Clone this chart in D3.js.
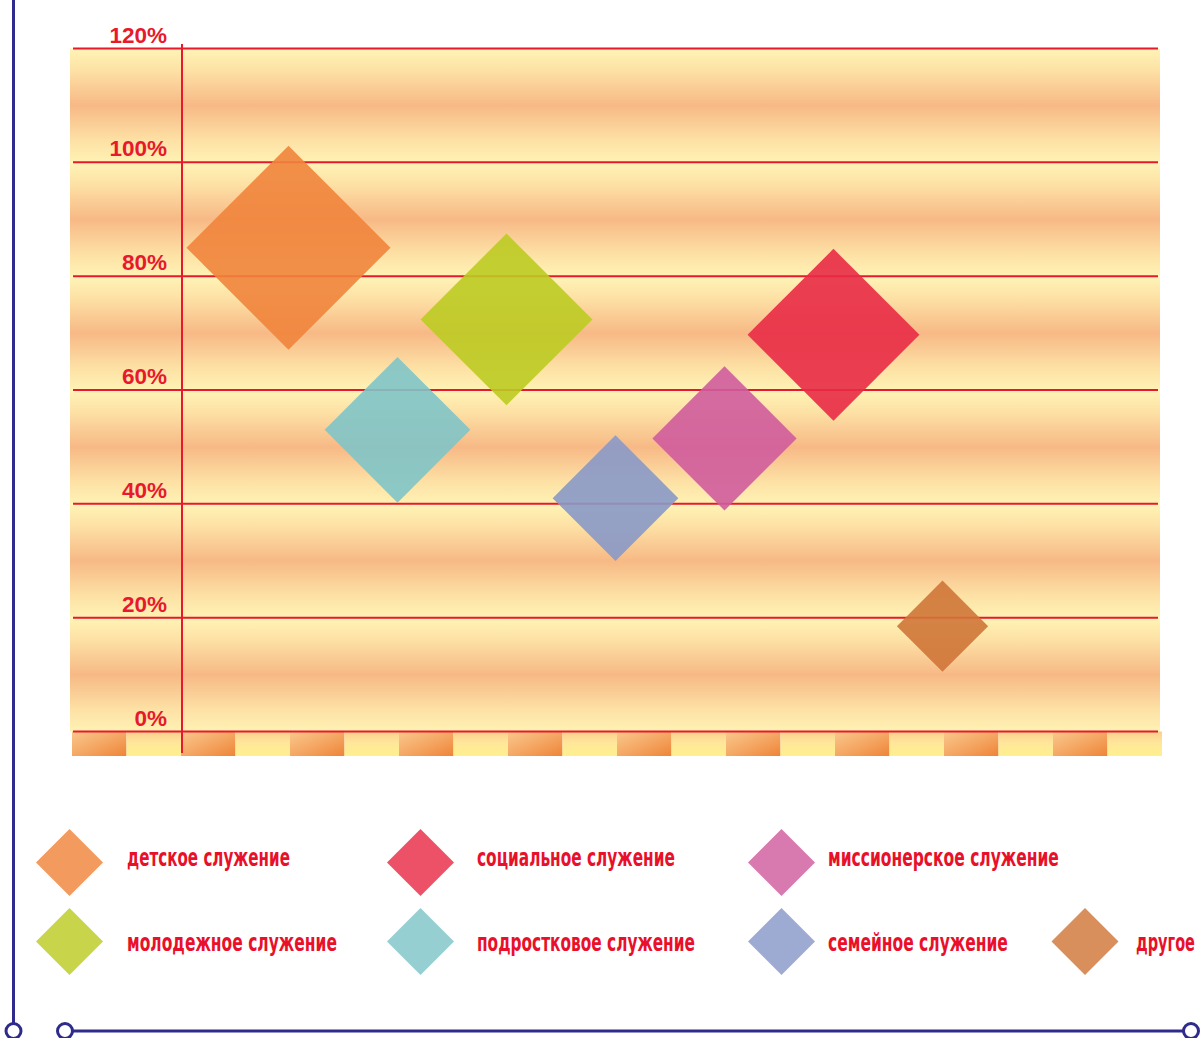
<!DOCTYPE html>
<html>
<head>
<meta charset="utf-8">
<script src="https://cdn.jsdelivr.net/npm/d3@7"></script>
<style>
  html, body { margin: 0; padding: 0; background: #ffffff; }
  svg { display: block; }
</style>
</head>
<body>
<svg id="chart" width="1201" height="1038"></svg>
<script>
// ---- data ----
const categories = ["детское служение", "подростковое служение", "молодежное служение",
                    "семейное служение", "миссионерское служение", "социальное служение", "другое"];
const values = [85, 53, 72.4, 41, 51.5, 69.7, 18.5];     // percent (y position)
const sizes  = [100, 51, 71, 38, 50, 71, 20];            // bubble size
const colors = ["#f0843c", "#7fc4c8", "#bccb22", "#8899c8", "#cf5c9d", "#e82b46", "#cf7638"];
const yTicks = [0, 20, 40, 60, 80, 100, 120];
const tickLabels = ["0%", "20%", "40%", "60%", "80%", "100%", "120%"];
const legendRows = [
  ["детское служение", "социальное служение", "миссионерское служение"],
  ["молодежное служение", "подростковое служение", "семейное служение", "другое"]
];

// ---- layout ----
const svg = d3.select("#chart");
const y = d3.scaleLinear().domain([0, 120]).range([731.5, 48.5]);
const x = d3.scaleLinear().domain([-1, 9]).range([72, 1162]);
const r = d3.scaleSqrt().domain([0, 100]).range([0, 102]);
const red = "#e8192c";
const navy = "#2f2b8c";
const defs = svg.append("defs");

// band gradient
const bandGrad = defs.append("linearGradient").attr("id", "band")
  .attr("x1", 0).attr("y1", 0).attr("x2", 0).attr("y2", 1);
[[0, "#fff4b6"], [0.2, "#fde0a4"], [0.5, "#f7b986"], [0.8, "#fde0a4"], [1, "#fff2b4"]]
  .forEach(([o, c]) => bandGrad.append("stop").attr("offset", o).attr("stop-color", c));

const cellO = defs.append("linearGradient").attr("id", "cellO")
  .attr("x1", 0).attr("y1", 0).attr("x2", 1).attr("y2", 1);
[[0, "#f9c88c"], [0.5, "#f5a865"], [1, "#ee8438"]]
  .forEach(([o, c]) => cellO.append("stop").attr("offset", o).attr("stop-color", c));
const cellY = defs.append("linearGradient").attr("id", "cellY")
  .attr("x1", 0).attr("y1", 0).attr("x2", 0).attr("y2", 1);
[[0, "#fbcf8e"], [0.45, "#ffe69a"], [1, "#fff08e"]]
  .forEach(([o, c]) => cellY.append("stop").attr("offset", o).attr("stop-color", c));

// background bands
const bands = d3.pairs(yTicks);
svg.append("g").selectAll("rect").data(bands).join("rect")
  .attr("x", 70).attr("width", 1090)
  .attr("y", d => y(d[1]))
  .attr("height", d => y(d[0]) - y(d[1]))
  .attr("fill", "url(#band)");

// bottom strip
const stripIdx = d3.range(-1, 9);
const stripTop = y(0), stripBot = 756;
const gs = svg.append("g");
gs.selectAll("rect.o").data(stripIdx).join("rect").attr("class", "o")
  .attr("x", d => x(d)).attr("width", d => (x(d + 1) - x(d)) / 2)
  .attr("y", stripTop).attr("height", stripBot - stripTop)
  .attr("fill", "url(#cellO)");
gs.selectAll("rect.y").data(stripIdx).join("rect").attr("class", "y")
  .attr("x", d => x(d) + (x(d + 1) - x(d)) / 2).attr("width", d => (x(d + 1) - x(d)) / 2)
  .attr("y", stripTop).attr("height", stripBot - stripTop)
  .attr("fill", "url(#cellY)");

// gridlines
svg.append("g").selectAll("line").data(yTicks).join("line")
  .attr("x1", 73).attr("x2", 1158)
  .attr("y1", d => y(d)).attr("y2", d => y(d))
  .attr("stroke", red).attr("stroke-width", 2);

// vertical axis
svg.append("line")
  .attr("x1", x(0) + 1).attr("x2", x(0) + 1).attr("y1", 44).attr("y2", 753)
  .attr("stroke", red).attr("stroke-width", 2);

// tick labels
svg.append("g").selectAll("text").data(yTicks).join("text")
  .attr("x", 167).attr("y", d => y(d) - 6)
  .attr("text-anchor", "end")
  .attr("font-family", "'Liberation Sans', Arial, sans-serif")
  .attr("font-weight", "bold").attr("font-size", 22.5)
  .attr("fill", red)
  .text((d, i) => tickLabels[i]);

// diamonds
const diamond = (cx, cy, h) => `M${cx},${cy - h}L${cx + h},${cy}L${cx},${cy + h}L${cx - h},${cy}Z`;
svg.append("g").selectAll("path").data(values).join("path")
  .attr("d", (v, i) => diamond(x(i + 1) - 1.5, y(v), r(sizes[i])))
  .attr("fill", (v, i) => colors[i])
  .attr("fill-opacity", 0.9);

// legend
const colX = [69.5, 420.5, 781.5, 1085];
const textX = [127, 477, 828, 1136];
const rowY = [862.5, 941.5];
const textBase = [866, 951];
const textW = {
  "детское служение": 163, "социальное служение": 198, "миссионерское служение": 231,
  "молодежное служение": 210, "подростковое служение": 218, "семейное служение": 180, "другое": 59
};
const lg = svg.append("g");
legendRows.forEach((row, ri) => {
  row.forEach((name, ci) => {
    const idx = categories.indexOf(name);
    lg.append("path")
      .attr("d", diamond(colX[ci], rowY[ri], 33.5))
      .attr("fill", colors[idx]).attr("fill-opacity", 0.82);
    const t = lg.append("text")
      .attr("x", 0).attr("y", 0)
      .attr("font-family", "'Liberation Sans Narrow', 'DejaVu Sans Condensed', 'Roboto Condensed', 'Liberation Sans', sans-serif")
      .attr("font-size", 25)
      .attr("font-weight", "bold")
      .attr("fill", "#e8102a")
      .text(name);
    const natural = t.node().getComputedTextLength() || textW[name];
    const sx = textW[name] / natural;
    t.attr("transform", `translate(${textX[ci]},${textBase[ri]}) scale(${sx},1)`);
  });
});

// navy frame decoration
const deco = svg.append("g").attr("stroke", navy).attr("stroke-width", 3).attr("fill", "#fff");
deco.append("line").attr("x1", 13.5).attr("x2", 13.5).attr("y1", 0).attr("y2", 1023.5);
deco.append("line").attr("x1", 72.5).attr("x2", 1183.5).attr("y1", 1031).attr("y2", 1031);
deco.append("circle").attr("cx", 13.5).attr("cy", 1031).attr("r", 7.5);
deco.append("circle").attr("cx", 65).attr("cy", 1031).attr("r", 7.5);
deco.append("circle").attr("cx", 1191).attr("cy", 1031).attr("r", 7.5);
</script>
</body>
</html>
